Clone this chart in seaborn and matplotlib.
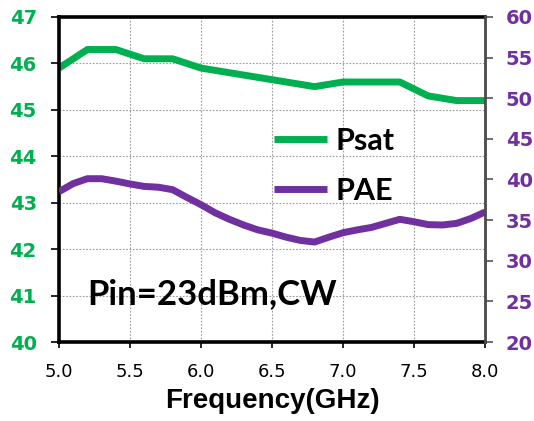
import matplotlib
matplotlib.use("Agg")
import matplotlib.pyplot as plt
import seaborn as sns
import pandas as pd

# Saturated output power (dBm) vs frequency (GHz)
freq_psat = [5.0, 5.2, 5.4, 5.6, 5.8, 6.0, 6.2, 6.4, 6.6, 6.8, 7.0, 7.2, 7.4, 7.6, 7.8, 8.0]
psat = [45.9, 46.3, 46.3, 46.1, 46.1, 45.9, 45.8, 45.7, 45.6, 45.5, 45.6, 45.6, 45.6, 45.3, 45.2, 45.2]

# Power added efficiency (%) vs frequency (GHz)
freq_pae = [5.0, 5.1, 5.2, 5.3, 5.4, 5.5, 5.6, 5.7, 5.8, 5.9, 6.0, 6.1, 6.2, 6.3, 6.4, 6.5,
            6.6, 6.7, 6.8, 6.9, 7.0, 7.1, 7.2, 7.3, 7.4, 7.5, 7.6, 7.7, 7.8, 7.9, 8.0]
pae = [38.5, 39.5, 40.1, 40.1, 39.8, 39.45, 39.15, 39.05, 38.75, 37.8, 36.9, 35.9, 35.1, 34.4, 33.8, 33.4,
       32.9, 32.5, 32.3, 32.9, 33.45, 33.8, 34.1, 34.6, 35.1, 34.8, 34.45, 34.4, 34.6, 35.2, 36.0]

x_ticks = [5.0, 5.5, 6.0, 6.5, 7.0, 7.5, 8.0]
psat_ticks = [40, 41, 42, 43, 44, 45, 46, 47]
pae_ticks = [20, 25, 30, 35, 40, 45, 50, 55, 60]

GREEN = "#00B050"
PURPLE = "#7030A0"

sns.set_theme(style="white")
plt.rcParams["font.family"] = ["DejaVu Sans"]
plt.rcParams["text.color"] = "black"
plt.rcParams["axes.labelcolor"] = "black"

fig = plt.figure(figsize=(5.34, 4.21), dpi=100)
ax = fig.add_axes([59 / 534, 1 - 342 / 421, 426 / 534, 325 / 421])
ax2 = ax.twinx()

df_psat = pd.DataFrame({"Frequency": freq_psat, "Psat": psat})
df_pae = pd.DataFrame({"Frequency": freq_pae, "PAE": pae})

sns.lineplot(data=df_psat, x="Frequency", y="Psat", ax=ax, color=GREEN,
             linewidth=5.0, label="Psat", legend=False, solid_capstyle="butt")
sns.lineplot(data=df_pae, x="Frequency", y="PAE", ax=ax2, color=PURPLE,
             linewidth=5.0, label="PAE", legend=False, solid_capstyle="butt")

ax.set_xlim(5.0, 8.0)
ax.set_ylim(40, 47)
ax2.set_ylim(20, 60)
ax.set_xticks(x_ticks)
ax.set_xticklabels([f"{t:.1f}" for t in x_ticks], fontsize=13, color="black")
ax.set_yticks(psat_ticks)
ax.set_yticklabels([str(t) for t in psat_ticks], fontsize=14, fontweight="bold", color=GREEN)
ax2.set_yticks(pae_ticks)
ax2.set_yticklabels([str(t) for t in pae_ticks], fontsize=14, fontweight="bold", color=PURPLE)

ax.grid(True, color="#9a9a9a", linestyle=(0, (1.5, 1.5)), linewidth=0.8)
ax.set_axisbelow(True)

ax.tick_params(axis="x", direction="out", length=4, width=1.2, color="black", pad=11, bottom=True)
ax.tick_params(axis="y", direction="out", length=6, width=1.2, color="black", pad=10, left=True)
ax2.tick_params(axis="y", direction="out", length=6, width=1.2, color="#555555", pad=9, right=True)

for name in ["left", "bottom", "top"]:
    ax.spines[name].set_linewidth(2.6)
    ax.spines[name].set_color("black")
    ax2.spines[name].set_visible(False)
ax.spines["right"].set_visible(False)
ax2.spines["right"].set_linewidth(2.0)
ax2.spines["right"].set_color("#4a4a4a")

ax.set_xlabel("Frequency(GHz)", fontsize=20, fontweight="bold",
              family="Liberation Sans", color="black", labelpad=5)
ax.set_ylabel("")
ax2.set_ylabel("")

ax.text(0.067, 0.148, "Pin=23dBm,CW", transform=ax.transAxes, fontsize=25,
        fontweight="bold", family="Lato", ha="left", va="center", color="black")

handles = ax.get_lines()[:1] + ax2.get_lines()[:1]
leg = ax2.legend(handles, ["Psat", "PAE"], loc="upper left",
                 bbox_to_anchor=(274 / 534, 1 - 127 / 421), bbox_transform=fig.transFigure,
                 frameon=False, borderpad=0, borderaxespad=0,
                 handlelength=1.75, handletextpad=0.25, labelspacing=0.72,
                 prop={"family": "Lato", "weight": "bold", "size": 22})
for t in leg.get_texts():
    t.set_color("black")

fig.savefig("out.png", dpi=100)
